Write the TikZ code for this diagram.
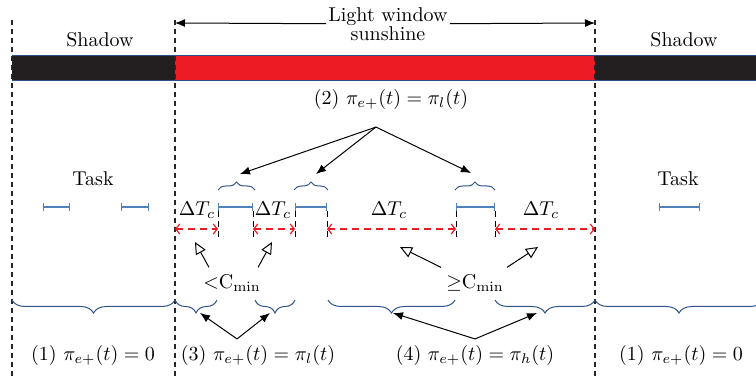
\documentclass[tikz,border=0pt]{standalone}
\usetikzlibrary{arrows.meta,decorations.pathreplacing,positioning}
\definecolor{sunred}{RGB}{237,28,36}
\definecolor{nightgray}{RGB}{35,31,32}
\definecolor{taskblue}{RGB}{79,129,189}
\definecolor{braceblue}{RGB}{46,84,138}

\begin{document}
\begin{tikzpicture}[x=0.5pt, y=-0.5pt,
  bound/.style={dash pattern=on 2.5pt off 2pt, line width=0.6pt, black!85},
  cut/.style={dash pattern=on 3pt off 2pt, line width=0.5pt},
  gap/.style={sunred, dash pattern=on 3.5pt off 2.5pt, line width=0.6pt, {Straight Barb[length=2pt,width=5pt]}-{Straight Barb[length=2pt,width=5pt]}},
  task/.style={taskblue, line width=0.6pt, {Bar[width=4pt]}-{Bar[width=4pt]}},
  topbr/.style={braceblue, line width=0.5pt, decorate, decoration={brace, amplitude=4pt}},
  botbr/.style={braceblue, line width=0.5pt, decorate, decoration={brace, amplitude=6.5pt}},
  ptr/.style={-{Latex[length=5pt,width=4pt]}, line width=0.5pt},
  opn/.style={-{Triangle[open,length=6pt,width=5.5pt]}, line width=0.5pt},
  lbl/.style={font=\normalsize}
]
\useasboundingbox (0,0) rectangle (756,379);
\clip (0,0) rectangle (756,379);

\fill[nightgray] (12,55) rectangle (175,80);
\fill[sunred] (175,55) rectangle (595,80);
\fill[nightgray] (595,55) rectangle (756,80);
\draw[braceblue, line width=0.4pt] (12,55) -- (756,55) (12,80) -- (756,80);

\foreach \x in {12,175,595}
  \draw[bound] (\x,20) -- (\x,379);

\node[lbl] (shl) at (100,40) {Shadow};
\node[lbl] (shr) at (684,40) {Shadow};
\node[lbl, fill=white, align=center, inner sep=1pt] (win) at (388,24) {Light window\\[-2.5pt]sunshine};
\coordinate (wl) at (175,23);
\coordinate (wr) at (595,23);
\draw[ptr] (win) -- (wl);
\draw[ptr] (win) -- (wr);

\node[lbl] (rule2) at (391,100) {(2) $\pi_{e+}(t) = \pi_l(t)$};
\coordinate (tb1) at (240,174);
\coordinate (tb2) at (316,174);
\coordinate (tb3) at (471,173);
\foreach \t in {tb1,tb2,tb3}
  \draw[ptr] ([xshift=-7.5pt,yshift=-5pt]rule2.south) -- (\t);

\node[lbl] (tskl) at (93,179) {Task};
\node[lbl] (tskr) at (678,179) {Task};

\foreach \a/\b in {218/255,294/328,455/495}
  \draw[topbr] (\a,190) -- (\b,190);
\foreach \a/\b in {43/70,121/149,218/253,295/327,456/495,659/700}
  \draw[task] (\a,207) -- (\b,207);
\foreach \x in {218,253,295,327,456,495}
  \draw[cut] (\x,211) -- (\x,238);
\foreach \a/\b in {175/218,253/295,327/456,495/595}
  \draw[gap] (\a,229) -- (\b,229);

\foreach \x [count=\i] in {197,273,389,541}
  \node[lbl] (dt\i) at (\x,210) {$\Delta T_c$};

\node[lbl] (less) at (232,283) {$<$C$_{\mathrm{min}}$};
\node[lbl] (geq) at (475,283) {$\geq$C$_{\mathrm{min}}$};
\coordinate (ta1) at (195,242);
\coordinate (ta2) at (272,242);
\coordinate (ta3) at (400,247);
\coordinate (ta4) at (538,247);
\draw[opn] ([xshift=-11.5pt]less.north) -- (ta1);
\draw[opn] ([xshift=13pt]less.north) -- (ta2);
\draw[opn] ([xshift=-17pt]geq.north) -- (ta3);
\draw[opn] ([xshift=16pt]geq.north) -- (ta4);

\foreach \a/\b in {12/175,175/217,255/295,328/455,495/595,595/763}
  \draw[botbr] (\b,300) -- (\a,300);

\node[lbl] (r1a) at (93,356) {(1) $\pi_{e+}(t) = 0$};
\node[lbl] (r3) at (258,356) {(3) $\pi_{e+}(t) = \pi_l(t)$};
\node[lbl] (r4) at (475,356) {(4) $\pi_{e+}(t) = \pi_h(t)$};
\node[lbl] (r1b) at (681,356) {(1) $\pi_{e+}(t) = 0$};
\coordinate (bb2) at (200,313);
\coordinate (bb3) at (270,313);
\coordinate (bb4) at (393,313);
\coordinate (bb5) at (537,313);
\draw[ptr] ([xshift=-10.5pt]r3.north) -- (bb2);
\draw[ptr] ([xshift=-10.5pt]r3.north) -- (bb3);
\draw[ptr] (r4.north) -- (bb4);
\draw[ptr] (r4.north) -- (bb5);
\end{tikzpicture}
\end{document}
